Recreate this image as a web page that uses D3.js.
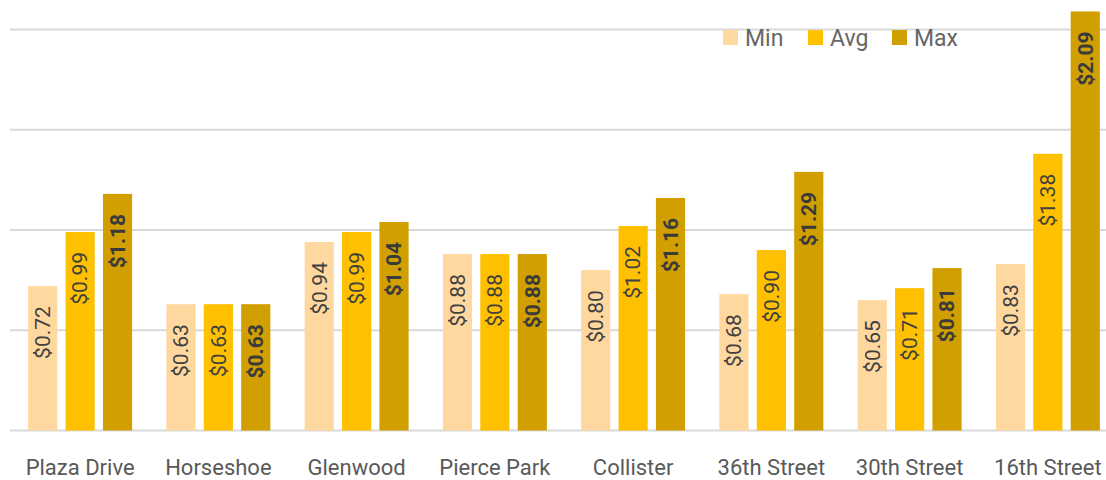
<!DOCTYPE html>
<meta charset="utf-8">
<style>
body { margin: 0; background: #fff; }
.grid line { stroke: #d9d9d9; stroke-width: 2px; }
.cat text { fill: #595959; font: 22px Roboto, sans-serif; }
.lbl { fill: #404040; font: 21px Roboto, sans-serif; }
.lbl.max { font-weight: bold; fill: #3a3a3a; }
.legend text { fill: #666; font: 23px Roboto, sans-serif; }
</style>
<svg width="1106" height="480"></svg>
<script src="https://d3js.org/d3.v7.min.js"></script>
<script>
var stops = ["Plaza Drive", "Horseshoe", "Glenwood", "Pierce Park", "Collister", "36th Street", "30th Street", "16th Street"];
var series = ["Min", "Avg", "Max"];
var minVals = [0.72, 0.63, 0.94, 0.88, 0.80, 0.68, 0.65, 0.83];
var avgVals = [0.99, 0.63, 0.99, 0.88, 1.02, 0.90, 0.71, 1.38];
var maxVals = [1.18, 0.63, 1.04, 0.88, 1.16, 1.29, 0.81, 2.09];
var ticks = [0, 0.5, 1, 1.5, 2];
var colors = ["#FFD8A0", "#FFC000", "#D29F00"];

var svg = d3.select("svg");
var vals = [minVals, avgVals, maxVals];

var y = d3.scaleLinear().domain([0, 2]).range([430.5, 29.5]);
var x0 = d3.scaleBand().domain(stops).range([11, 1117]).paddingInner(0.248).paddingOuter(0.124);
var x1 = d3.scaleBand().domain(series).range([0, x0.bandwidth()]).paddingInner(0.22);

// gridlines
svg.append("g").attr("class", "grid").selectAll("line").data(ticks).enter().append("line")
    .attr("x1", 10).attr("x2", 1106)
    .attr("y1", function(d) { return y(d); }).attr("y2", function(d) { return y(d); });

var grp = svg.selectAll(".stop").data(stops).enter().append("g")
    .attr("class", "stop")
    .attr("transform", function(d) { return "translate(" + x0(d) + ",0)"; });

function cells(d, i) {
    return series.map(function(s, j) { return {s: s, j: j, v: vals[j][i]}; });
}

grp.selectAll("rect").data(cells).enter().append("rect")
    .attr("x", function(d) { return x1(d.s); })
    .attr("width", x1.bandwidth())
    .attr("y", function(d) { return y(d.v); })
    .attr("height", function(d) { return y(0) - y(d.v); })
    .attr("fill", function(d) { return colors[d.j]; });

grp.selectAll("text").data(cells).enter().append("text")
    .attr("class", function(d) { return d.j == 2 ? "lbl max" : "lbl"; })
    .attr("text-anchor", "end")
    .attr("dy", "0.35em")
    .attr("transform", function(d) {
        return "translate(" + (x1(d.s) + x1.bandwidth() / 2) + "," + (y(d.v) + 20) + ") rotate(-90)";
    })
    .text(function(d) { return "$" + d.v.toFixed(2); });

// category labels
svg.append("g").attr("class", "cat").selectAll("text").data(stops).enter().append("text")
    .attr("x", function(d) { return x0(d) + x0.bandwidth() / 2; })
    .attr("y", 475)
    .attr("text-anchor", "middle")
    .text(function(d) { return d; });

// legend
var legX = [723, 808, 892];
var leg = svg.append("g").attr("class", "legend").selectAll("g").data(series).enter().append("g")
    .attr("transform", function(d, i) { return "translate(" + legX[i] + ",30)"; });
leg.append("rect").attr("width", 15).attr("height", 15).attr("fill", function(d, i) { return colors[i]; });
leg.append("text").attr("x", 22).attr("y", 16).text(function(d) { return d; });
</script>
